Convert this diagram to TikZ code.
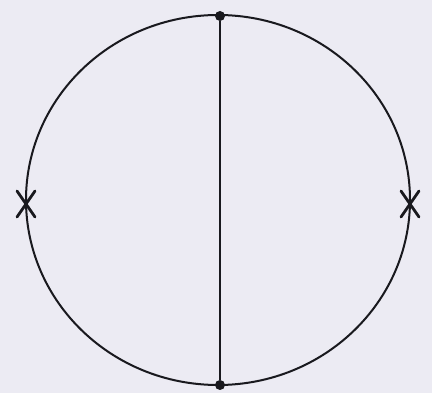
\documentclass[tikz,border=0pt]{standalone}
\usetikzlibrary{calc}
\definecolor{bg}{RGB}{236,235,243}
\definecolor{ink}{RGB}{25,25,30}
\tikzset{
  curve/.style={draw=ink, line width=2pt},
  vertex/.style={circle, fill=ink, inner sep=0pt, minimum size=10pt},
  cross/.style={draw=ink, line width=2.8pt, line cap=round}
}
\begin{document}
\begin{tikzpicture}[x=1pt,y=-1pt]
\fill[bg] (0,0) rectangle (432,393);
\useasboundingbox (0,0) rectangle (432,393);
\draw[curve] (218,200) ellipse [x radius=192, y radius=185];
\node[vertex] (top) at (220,16) {};
\node[vertex] (bot) at (220,385) {};
\draw[curve] (top) -- (bot);
\coordinate (L) at (26,204);
\coordinate (R) at (410,204);
\draw[cross] ($(L)+(-9,-13)$) -- ($(L)+(9,13)$);
\draw[cross] ($(L)+(9,-13)$) -- ($(L)+(-9,13)$);
\draw[cross] ($(R)+(-9,-13)$) -- ($(R)+(9,13)$);
\draw[cross] ($(R)+(9,-13)$) -- ($(R)+(-9,13)$);
\end{tikzpicture}
\end{document}
